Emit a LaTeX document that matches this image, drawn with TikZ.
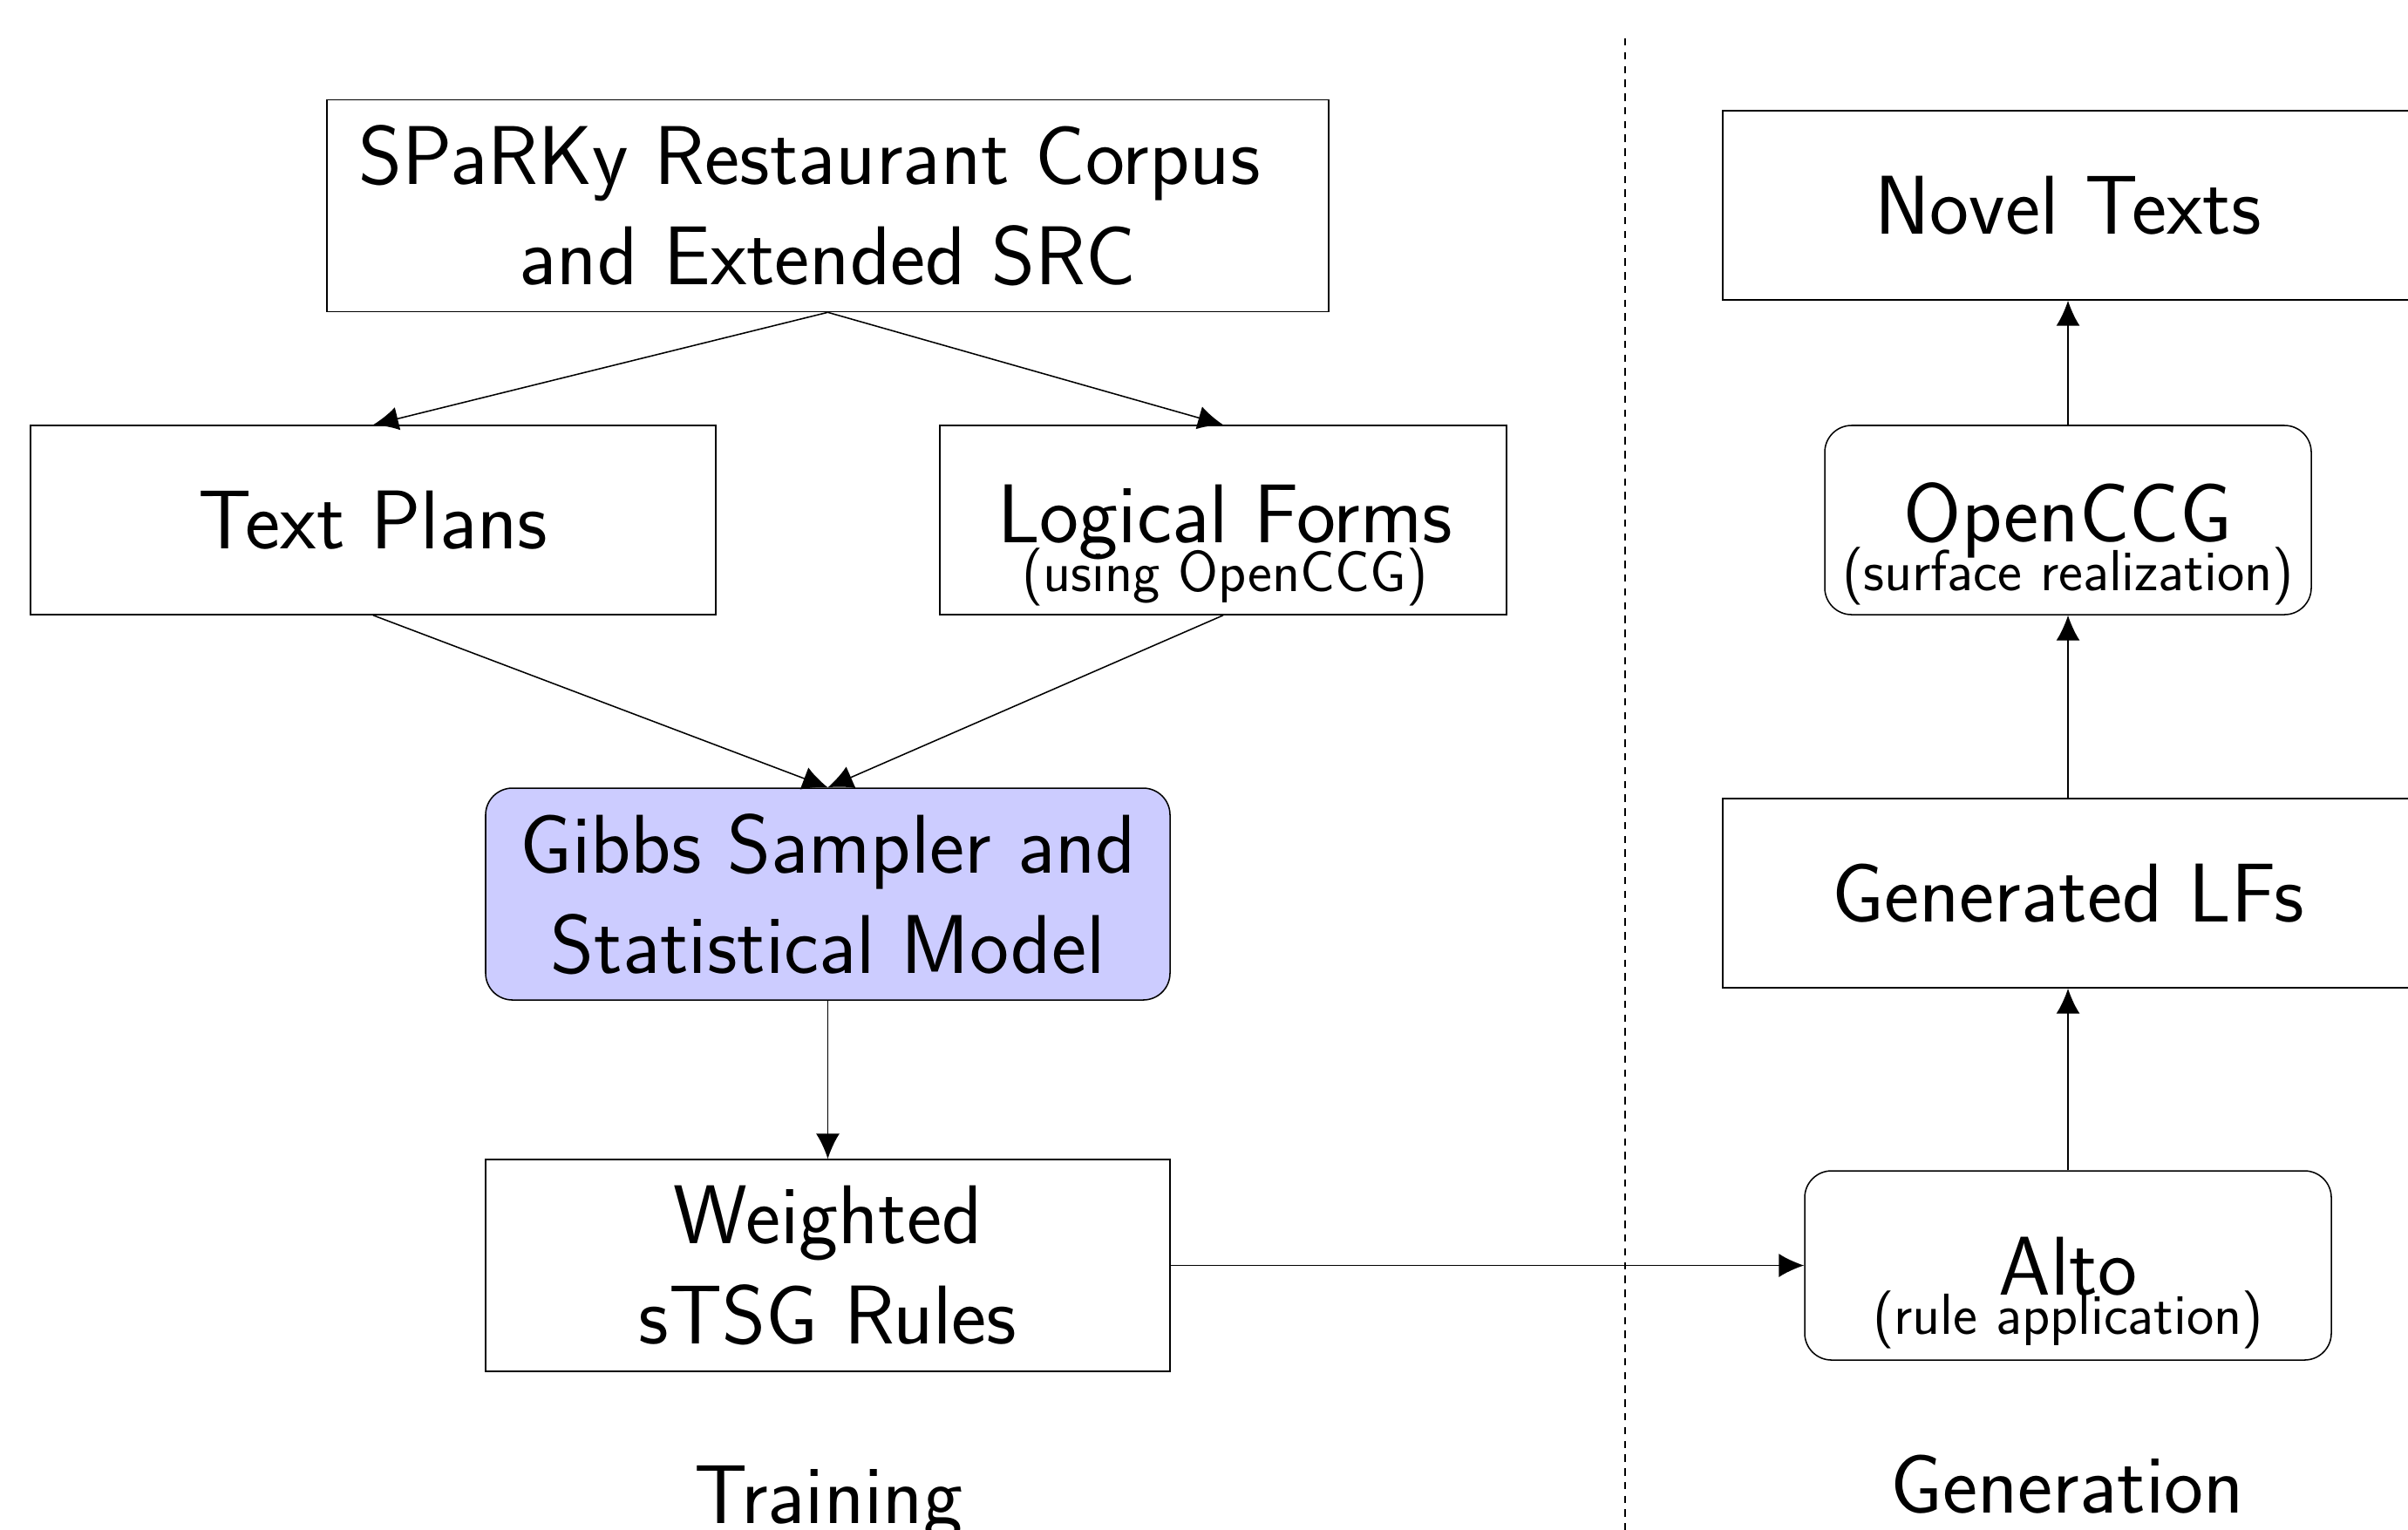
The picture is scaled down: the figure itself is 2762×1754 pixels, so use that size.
\documentclass[tikz,border=0pt]{standalone}
\usetikzlibrary{arrows.meta}
\renewcommand{\familydefault}{\sfdefault}
\tikzset{
  box/.style={draw, inner sep=0pt, align=center, font=\Huge\sffamily},
  rbox/.style={box, rounded corners=8pt},
  conn/.style={-{Latex[length=7.5pt,width=7pt]}},
  maintxt/.style={font=\Huge\sffamily, inner sep=0pt, anchor=base},
  subtxt/.style={font=\LARGE\sffamily, inner sep=0pt, anchor=base},
  divider/.style={dash pattern=on 2.2pt off 1.9pt},
}
\begin{document}
\begin{tikzpicture}[x=0.26pt,y=-0.26pt]
\useasboundingbox (0,0) rectangle (2762,1754);
% divider
\coordinate (dtop) at (1864,44);
\coordinate (dbot) at (1864,1770);
\draw[divider] (dtop) -- (dbot);
% training column
\node[box, minimum width=298.74pt, minimum height=63.18pt] (src) at (949.5,236) {SPaRKy Restaurant Corpus\kern11pt\\and Extended SRC};
\node[box, minimum width=204.36pt, minimum height=56.42pt] (tp) at (428,596.5) {Text Plans};
\node[box, minimum width=169pt, minimum height=56.42pt] (lf) at (1403,596.5) {};
\node[maintxt] (lft) at (1405,622) {Logical Forms};
\node[subtxt] (lfs) at (1405,678) {(using OpenCCG)};
\node[rbox, fill=blue!20, minimum width=204.1pt, minimum height=63.18pt] (gibbs) at (949.5,1025.5) {Gibbs Sampler and\\Statistical Model};
\node[box, minimum width=204.1pt, minimum height=63.18pt] (w) at (949.5,1451.5) {Weighted\\sTSG Rules};
\node[maintxt] (train) at (950,1747) {Training};
% generation column
\node[box, minimum width=205.92pt, minimum height=56.42pt] (novel) at (2372,235.5) {Novel Texts};
\node[rbox, minimum width=145.08pt, minimum height=56.42pt] (occg) at (2372,596.5) {};
\node[maintxt] (occgt) at (2372,621) {OpenCCG};
\node[subtxt] (occgs) at (2372,677) {(surface realization)};
\node[box, minimum width=205.92pt, minimum height=56.42pt] (gen) at (2372,1024.5) {Generated LFs};
\node[rbox, minimum width=157.04pt, minimum height=56.42pt] (alto) at (2372,1451.5) {};
\node[maintxt] (altot) at (2372,1485) {Alto};
\node[subtxt] (altos) at (2372,1530) {(rule application)};
\node[maintxt] (genl) at (2371,1735) {Generation};
% connectors
\draw[conn] (src.south) -- (tp.north);
\draw[conn] (src.south) -- (lf.north);
\draw[conn] (tp.south) -- (gibbs.north);
\draw[conn] (lf.south) -- (gibbs.north);
\draw[conn] (gibbs) -- (w);
\draw[conn] (w.east) -- (alto.west);
\draw[conn] (alto) -- (gen);
\draw[conn] (gen) -- (occg);
\draw[conn] (occg) -- (novel);
\end{tikzpicture}
\end{document}
